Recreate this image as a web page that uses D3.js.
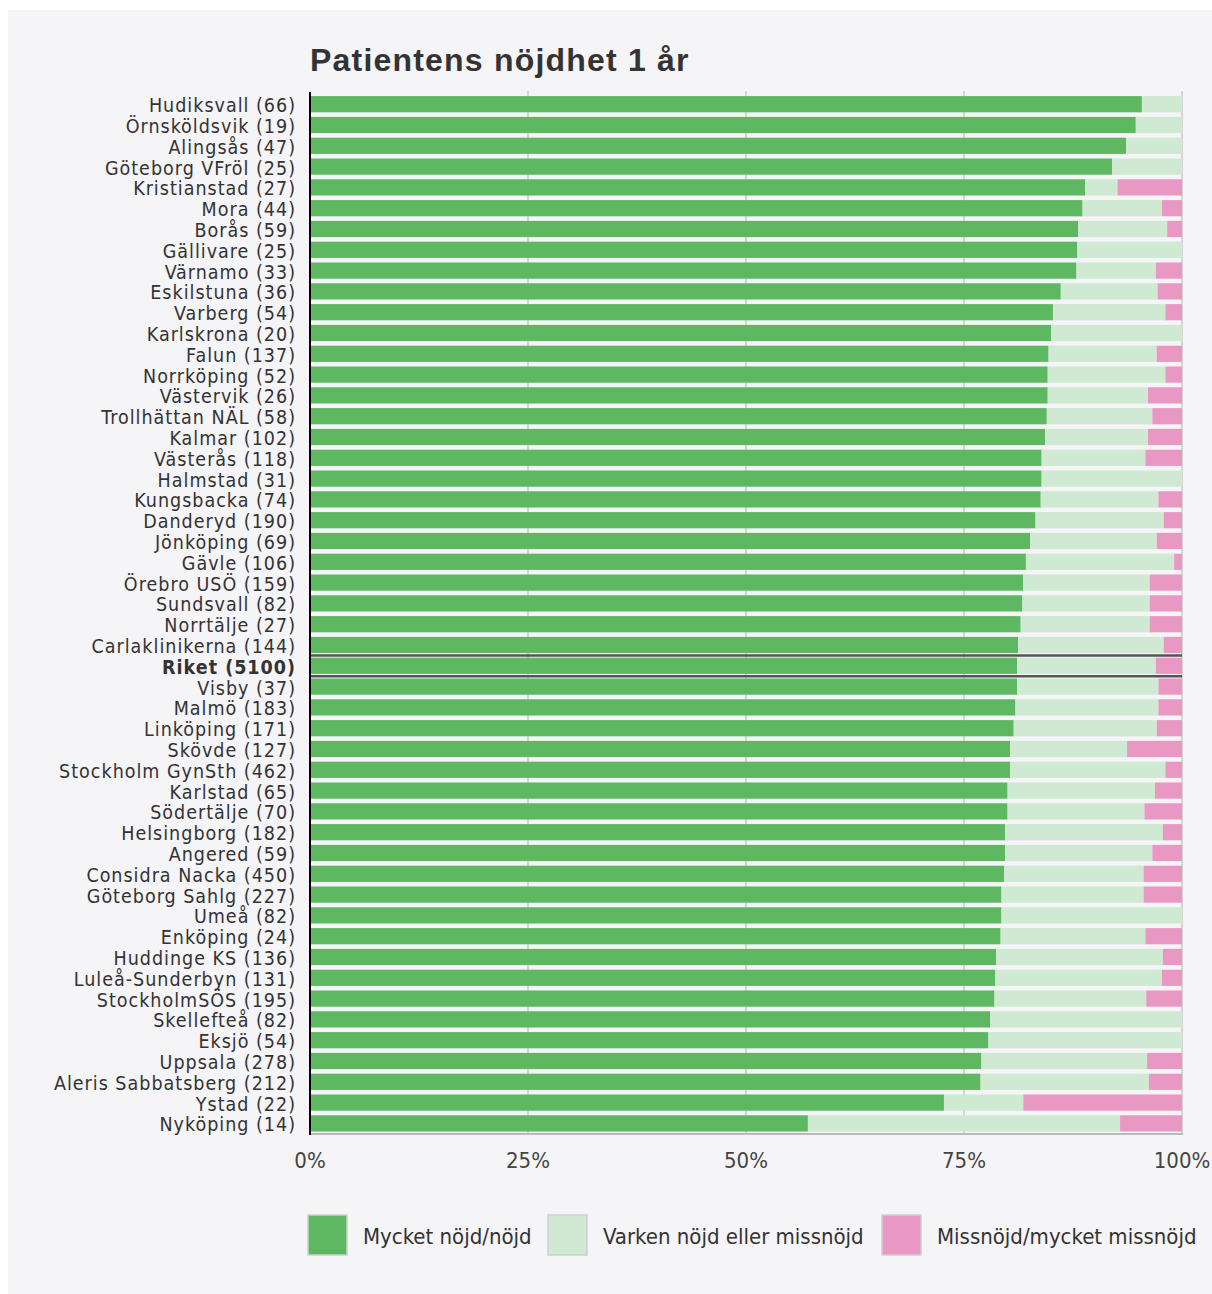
<!DOCTYPE html>
<html>
<head>
    <meta charset="utf-8">
    <title>Patientens nöjdhet 1 år</title>
    <script src="https://d3js.org/d3.v7.min.js"></script>
    <style type="text/css">
        body { margin: 0; background: #ffffff; }
        .lbl { font-family: "Liberation Sans Narrow", "DejaVu Sans Condensed", sans-serif; fill: #333; }
    </style>
</head>
<body>
    <script type="text/javascript">
        // klinik (antal svar)
        const clinics = ["Hudiksvall (66)", "Örnsköldsvik (19)", "Alingsås (47)", "Göteborg VFröl (25)",
            "Kristianstad (27)", "Mora (44)", "Borås (59)", "Gällivare (25)", "Värnamo (33)", "Eskilstuna (36)",
            "Varberg (54)", "Karlskrona (20)", "Falun (137)", "Norrköping (52)", "Västervik (26)",
            "Trollhättan NÄL (58)", "Kalmar (102)", "Västerås (118)", "Halmstad (31)", "Kungsbacka (74)",
            "Danderyd (190)", "Jönköping (69)", "Gävle (106)", "Örebro USÖ (159)", "Sundsvall (82)",
            "Norrtälje (27)", "Carlaklinikerna (144)", "Riket (5100)", "Visby (37)", "Malmö (183)",
            "Linköping (171)", "Skövde (127)", "Stockholm GynSth (462)", "Karlstad (65)", "Södertälje (70)",
            "Helsingborg (182)", "Angered (59)", "Considra Nacka (450)", "Göteborg Sahlg (227)", "Umeå (82)",
            "Enköping (24)", "Huddinge KS (136)", "Luleå-Sunderbyn (131)", "StockholmSÖS (195)", "Skellefteå (82)",
            "Eksjö (54)", "Uppsala (278)", "Aleris Sabbatsberg (212)", "Ystad (22)", "Nyköping (14)"];

        // andel i procent
        const nojd = [95.4, 94.7, 93.6, 92.0, 88.9, 88.6, 88.1, 88.0, 87.9, 86.1,
            85.2, 85.0, 84.7, 84.6, 84.6, 84.5, 84.3, 83.9, 83.9, 83.8,
            83.2, 82.6, 82.1, 81.8, 81.7, 81.5, 81.2, 81.1, 81.1, 80.9,
            80.7, 80.3, 80.3, 80.0, 80.0, 79.7, 79.7, 79.6, 79.3, 79.3,
            79.2, 78.7, 78.6, 78.5, 78.0, 77.8, 77.0, 76.9, 72.7, 57.1];
        const varken = [4.6, 5.3, 6.4, 8.0, 3.7, 9.1, 10.2, 12.0, 9.1, 11.1,
            12.9, 15.0, 12.4, 13.5, 11.5, 12.1, 11.8, 11.9, 16.1, 13.5,
            14.7, 14.5, 17.0, 14.5, 14.6, 14.8, 16.7, 15.9, 16.2, 16.4,
            16.4, 13.4, 17.8, 16.9, 15.7, 18.1, 16.9, 16.0, 16.3, 20.7,
            16.6, 19.1, 19.1, 17.4, 22.0, 22.2, 19.0, 19.3, 9.1, 35.8];
        const missnojd = [0, 0, 0, 0, 7.4, 2.3, 1.7, 0, 3.0, 2.8,
            1.9, 0, 2.9, 1.9, 3.9, 3.4, 3.9, 4.2, 0, 2.7,
            2.1, 2.9, 0.9, 3.7, 3.7, 3.7, 2.1, 3.0, 2.7, 2.7,
            2.9, 6.3, 1.9, 3.1, 4.3, 2.2, 3.4, 4.4, 4.4, 0,
            4.2, 2.2, 2.3, 4.1, 0, 0, 4.0, 3.8, 18.2, 7.1];

        const seriesNames = ["Mycket nöjd/nöjd", "Varken nöjd eller missnöjd", "Missnöjd/mycket missnöjd"];
        const colors = ["#5eb761", "#d0e9d3", "#e998c4"];
        const ticks = [0, 25, 50, 75, 100];
        const highlight = "Riket (5100)";

        let width = 1212, height = 1294;

        let svg = d3.select("body").append("svg")
            .attr("width", width)
            .attr("height", height);

        // panel background
        svg.append("rect")
            .attr("x", 8).attr("y", 10)
            .attr("width", width - 8).attr("height", height - 10)
            .style("fill", "#f5f4f7");

        svg.append("text")
            .attr("x", 310).attr("y", 71)
            .style("font-family", "'Liberation Sans', Arial, sans-serif")
            .style("font-weight", "bold")
            .style("font-size", "32px")
            .style("letter-spacing", "1.2px")
            .style("fill", "#333")
            .text("Patientens nöjdhet 1 år");

        let x = d3.scaleLinear().domain([0, 100]).range([310, 1182]);
        let y = d3.scaleBand().domain(clinics).range([93.8, 1133.8]).paddingInner(0.22).paddingOuter(0.11);

        // gridlines
        svg.append("g").selectAll("line")
            .data(ticks.slice(1))
            .join("line")
            .attr("x1", d => x(d)).attr("x2", d => x(d))
            .attr("y1", 91).attr("y2", 1134)
            .style("stroke", "#d4d4d4")
            .style("stroke-width", 2);

        // stacked rows
        let rows = clinics.map((c, i) => ({ name: c, v: [nojd[i], varken[i], missnojd[i]] }));
        let stackData = d3.stack().keys([0, 1, 2]).value((d, k) => d.v[k])(rows);

        svg.append("g").selectAll("g")
            .data(stackData)
            .join("g")
                .style("fill", (d, i) => colors[i])
            .selectAll("rect")
            .data(d => d.filter(p => p[1] > p[0]))
            .join("rect")
                .attr("x", d => x(d[0]))
                .attr("width", d => x(Math.min(d[1], 100)) - x(d[0]))
                .attr("y", d => y(d.data.name))
                .attr("height", y.bandwidth());

        // lines around Riket
        let riketTop = y(highlight) - y.step() * y.paddingInner() / 2;
        [riketTop, riketTop + y.step()].forEach(v => {
            svg.append("line")
                .attr("x1", 310).attr("x2", 1182)
                .attr("y1", v).attr("y2", v)
                .style("stroke", "#555")
                .style("stroke-width", 2.5);
        });

        // bottom axis
        svg.append("line")
            .attr("x1", 310).attr("x2", 1183)
            .attr("y1", 1134).attr("y2", 1134)
            .style("stroke", "#bbb")
            .style("stroke-width", 2);

        svg.append("g").selectAll("text")
            .data(ticks)
            .join("text")
            .attr("class", "lbl")
            .attr("x", d => x(d))
            .attr("y", 1168)
            .attr("text-anchor", "middle")
            .style("font-size", "22px")
            .style("fill", "#444")
            .text(d => d + "%");

        // left axis line
        svg.append("line")
            .attr("x1", 310).attr("x2", 310)
            .attr("y1", 92).attr("y2", 1135)
            .style("stroke", "#000")
            .style("stroke-width", 2);

        // category labels
        svg.append("g").selectAll("text")
            .data(clinics)
            .join("text")
            .attr("class", "lbl")
            .attr("x", 296)
            .attr("y", d => y(d) + y.bandwidth() / 2 + 8)
            .attr("text-anchor", "end")
            .style("font-size", "19.5px")
            .style("letter-spacing", "1px")
            .style("font-weight", d => d == highlight ? "bold" : "normal")
            .text(d => d);

        // legend
        let legX = [308, 548, 882];
        let legend = svg.append("g").selectAll("g")
            .data(seriesNames)
            .join("g")
            .attr("transform", (d, i) => "translate(" + legX[i] + ",1215)");
        legend.append("rect")
            .attr("width", 39).attr("height", 40)
            .style("fill", (d, i) => colors[i])
            .style("stroke", "#cfcfcf")
            .style("stroke-width", 1.5);
        legend.append("text")
            .attr("class", "lbl")
            .attr("x", 55).attr("y", 29)
            .style("font-size", "22px")
            .text(d => d);
    </script>
</body>
</html>
